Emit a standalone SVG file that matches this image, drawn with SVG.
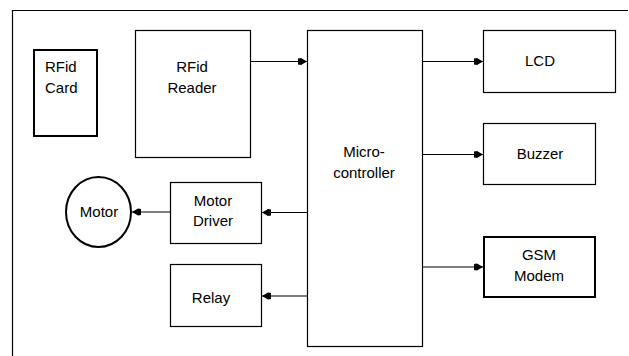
<svg xmlns="http://www.w3.org/2000/svg" width="629" height="356" viewBox="0 0 629 356">
<style>
.box{fill:#fff;stroke:#000;stroke-width:1.2}
.thick{stroke-width:2}
.lbl{font-family:"Liberation Sans",Arial,sans-serif;font-size:15px;fill:#000}
.c{text-anchor:middle}
.conn{stroke:#000;stroke-width:1.2;fill:none;marker-end:url(#ah)}
</style>
<defs>
<marker id="ah" markerWidth="9" markerHeight="8" refX="9" refY="4" orient="auto" markerUnits="userSpaceOnUse">
<path d="M0,1 L3,0.5 L9,4 L3,7.5 L0,7 z" fill="#000"/>
</marker>
</defs>
<rect width="629" height="356" fill="#fff"/>
<g id="frame">
<path d="M12.5,356 V10.5 H628" fill="none" stroke="#000" stroke-width="1.2"/>
</g>
<g id="rfid-card">
<rect class="box thick" x="34" y="50" width="63" height="86"/>
<text class="lbl" x="45" y="72">RFid</text>
<text class="lbl" x="45" y="93">Card</text>
</g>
<g id="rfid-reader">
<rect class="box" x="135.5" y="30.5" width="115" height="127"/>
<text class="lbl c" x="192" y="72">RFid</text>
<text class="lbl c" x="192" y="93">Reader</text>
</g>
<g id="microcontroller">
<rect class="box" x="307.5" y="30.5" width="115" height="316" stroke-width="1.6"/>
<text class="lbl c" x="364" y="157">Micro-</text>
<text class="lbl c" x="364" y="178">controller</text>
</g>
<g id="lcd">
<rect class="box" x="483.5" y="30.5" width="132" height="62"/>
<text class="lbl c" x="540" y="66">LCD</text>
</g>
<g id="buzzer">
<rect class="box" x="483.5" y="123.5" width="112" height="61" stroke-width="1.5"/>
<text class="lbl c" x="540" y="159">Buzzer</text>
</g>
<g id="gsm-modem">
<rect class="box thick" x="484" y="237" width="111" height="60"/>
<text class="lbl c" x="539" y="260">GSM</text>
<text class="lbl c" x="539" y="281">Modem</text>
</g>
<g id="motor-driver">
<rect class="box" x="170.5" y="182.5" width="91" height="61"/>
<text class="lbl c" x="213" y="206">Motor</text>
<text class="lbl c" x="213" y="226">Driver</text>
</g>
<g id="relay">
<rect class="box" x="170.5" y="264.5" width="91" height="62"/>
<text class="lbl c" x="211" y="303">Relay</text>
</g>
<g id="motor">
<ellipse cx="98.5" cy="212" rx="32.5" ry="35" fill="#fff" stroke="#000" stroke-width="2"/>
<text class="lbl c" x="99" y="217">Motor</text>
</g>
<g id="connectors">
<line class="conn" x1="251" y1="61.5" x2="307" y2="61.5"/>
<line class="conn" x1="423" y1="61.5" x2="483" y2="61.5"/>
<line class="conn" x1="423" y1="154.5" x2="483" y2="154.5"/>
<line class="conn" x1="423" y1="267" x2="483" y2="267"/>
<line class="conn" x1="307" y1="212.5" x2="262" y2="212.5"/>
<line class="conn" x1="307" y1="296" x2="262" y2="296"/>
<line class="conn" x1="170" y1="212" x2="132" y2="212"/>
</g>
</svg>
